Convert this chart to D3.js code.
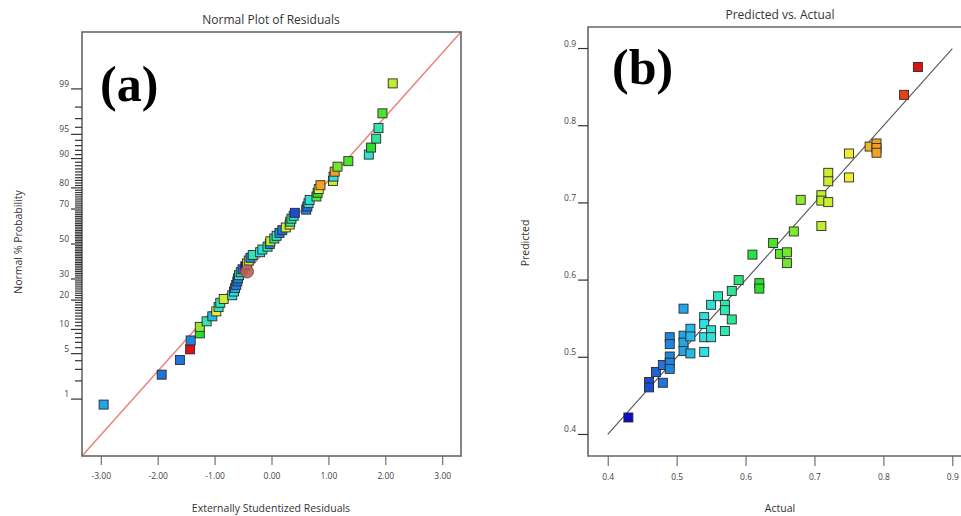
<!DOCTYPE html>
<html>
<head>
<meta charset="utf-8">
<script src="https://cdn.jsdelivr.net/npm/d3@7"></script>
<style>
  body { margin: 0; background: #fff; }
  svg { display: block; }
</style>
</head>
<body>
<svg id="chart" width="961" height="516"></svg>
<script>
// (a) normal plot of residuals
const residualsA = [-2.95,-1.93,-1.61,-1.43,-1.42,-1.26,-1.26,-1.14,-1.04,-0.97,
  -0.93,-0.90,-0.84,-0.69,-0.66,-0.64,-0.62,-0.60,-0.59,-0.57,
  -0.54,-0.51,-0.46,-0.43,-0.40,-0.37,-0.33,-0.20,-0.16,-0.07,
  -0.03,-0.02,0.05,0.09,0.14,0.19,0.25,0.32,0.33,0.35,
  0.39,0.41,0.61,0.63,0.65,0.67,0.79,0.81,0.83,0.86,
  1.08,1.09,1.11,1.16,1.35,1.71,1.75,1.84,1.88,1.95,2.13];
const percentA = [0.8,2.5,4.1,5.7,7.4,9.0,10.7,12.3,13.9,15.6,
  17.2,18.9,20.5,22.1,23.8,25.4,27.0,28.7,30.3,32.0,
  33.6,35.2,36.9,38.5,40.2,41.8,43.4,45.1,46.7,48.4,
  50.0,51.6,53.3,54.9,56.6,58.2,59.8,61.5,63.1,64.8,
  66.4,68.0,69.7,71.3,73.0,74.6,76.2,77.9,79.5,81.1,
  82.8,84.4,86.1,87.7,89.3,91.0,92.6,94.3,95.9,97.5,99.2];
const responseA = [0.51,0.48,0.48,0.85,0.49,0.62,0.68,0.57,0.52,0.75,
  0.56,0.57,0.72,0.54,0.54,0.51,0.49,0.48,0.49,0.54,
  0.59,0.47,0.43,0.75,0.72,0.49,0.57,0.54,0.55,0.57,
  0.49,0.71,0.58,0.56,0.49,0.48,0.72,0.75,0.57,0.58,
  0.55,0.46,0.49,0.48,0.54,0.55,0.65,0.62,0.75,0.79,
  0.72,0.54,0.79,0.66,0.64,0.55,0.62,0.58,0.57,0.64,0.71];
const highlightA = { residual: -0.43, percent: 34.0 };
const xTicksA = [-3, -2, -1, 0, 1, 2, 3];
const yLabelsA = [1, 5, 10, 20, 30, 50, 70, 80, 90, 95, 99];

// (b) predicted vs actual
const actualB = [0.43,0.46,0.46,0.47,0.48,0.48,0.49,0.49,0.49,0.49,0.49,
  0.51,0.51,0.51,0.51,0.52,0.52,0.52,0.54,0.54,0.54,0.54,
  0.55,0.55,0.55,0.56,0.57,0.57,0.57,0.58,0.58,0.59,0.61,0.62,0.62,
  0.64,0.65,0.66,0.66,0.67,0.68,0.71,0.71,0.71,0.72,0.72,0.72,
  0.75,0.75,0.78,0.79,0.79,0.79,0.83,0.85];
const predictedB = [0.422,0.468,0.461,0.481,0.490,0.467,0.526,0.517,0.501,0.493,0.485,
  0.563,0.528,0.519,0.508,0.537,0.527,0.505,0.552,0.543,0.526,0.507,
  0.568,0.535,0.526,0.579,0.568,0.561,0.534,0.586,0.549,0.600,0.633,0.596,0.589,
  0.648,0.634,0.636,0.622,0.663,0.704,0.710,0.703,0.670,0.739,0.728,0.701,
  0.764,0.733,0.773,0.777,0.771,0.765,0.840,0.876];
const ticksB = [0.4, 0.5, 0.6, 0.7, 0.8, 0.9];

// inverse normal cdf (Acklam)
function probit(p) {
  const a = [-39.69683028665376, 220.9460984245205, -275.9285104469687, 138.3577518672690, -30.66479806614716, 2.506628277459239];
  const b = [-54.47609879822406, 161.5858368580409, -155.6989798598866, 66.80131188771972, -13.28068155211578];
  const c = [-0.007784894002430293, -0.3223964580411365, -2.400758277161838, -2.549732539343734, 4.374664141464968, 2.938163982698783];
  const d = [0.007784695709041462, 0.3224671290700398, 2.445134137142996, 3.754408661907416];
  const pl = 0.02425;
  let q, r;
  if (p < pl) {
    q = Math.sqrt(-2 * Math.log(p));
    return (((((c[0]*q+c[1])*q+c[2])*q+c[3])*q+c[4])*q+c[5]) / ((((d[0]*q+d[1])*q+d[2])*q+d[3])*q+1);
  }
  if (p > 1 - pl) {
    q = Math.sqrt(-2 * Math.log(1 - p));
    return -(((((c[0]*q+c[1])*q+c[2])*q+c[3])*q+c[4])*q+c[5]) / ((((d[0]*q+d[1])*q+d[2])*q+d[3])*q+1);
  }
  q = p - 0.5; r = q * q;
  return (((((a[0]*r+a[1])*r+a[2])*r+a[3])*r+a[4])*r+a[5])*q / (((((b[0]*r+b[1])*r+b[2])*r+b[3])*r+b[4])*r+1);
}

const color = d3.scaleLinear()
  .domain([0.43, 0.47, 0.51, 0.54, 0.57, 0.62, 0.70, 0.75, 0.79, 0.85])
  .range(['#0b0bc8','#1f63d8','#22a6e8','#2edfe6','#2ee6ae','#2adf2a','#b2ee2e','#f2ee2e','#f2a222','#e01010'])
  .clamp(true);

const svg = d3.select('#chart');
const font = '"Open Sans", sans-serif';
const serif = '"Liberation Serif", "Times New Roman", serif';

// ---------- panel (a) ----------
const xA = d3.scaleLinear().domain([-3.33, 3.33]).range([82, 461]);
const zA = d3.scaleLinear().domain([-3.18, 3.18]).range([456, 32]);
const yA = pct => zA(probit(pct / 100));

const gA = svg.append('g');

// reference line corner to corner
gA.append('line')
  .attr('x1', xA(-3.33)).attr('y1', zA(-3.18))
  .attr('x2', xA(3.33)).attr('y2', zA(3.18))
  .attr('stroke', '#e8877e').attr('stroke-width', 1.6);

gA.selectAll('text.ylab').data(yLabelsA).join('text')
  .attr('class', 'ylab')
  .attr('x', 69).attr('y', d => yA(d) - 2)
  .attr('text-anchor', 'end').attr('font-family', font).attr('font-size', 8.5).attr('fill', '#444')
  .text(d => d);

const axXA = gA.append('g')
  .attr('transform', 'translate(0,456)')
  .call(d3.axisBottom(xA).tickValues(xTicksA).tickSize(9).tickPadding(8).tickSizeOuter(0)
    .tickFormat(d => d.toFixed(2)));
axXA.select('.domain').remove();
axXA.selectAll('.tick line').attr('stroke', '#555');
axXA.selectAll('.tick text').attr('font-size', 8.5).attr('font-family', font).attr('fill', '#444');

// frame
gA.append('rect')
  .attr('x', 82).attr('y', 32).attr('width', 379).attr('height', 424)
  .attr('fill', 'none').attr('stroke', '#666').attr('stroke-width', 1.6);

const ptsA = residualsA.map((r, i) => ({ r, p: percentA[i], v: responseA[i] }));
gA.selectAll('rect.ptA').data(ptsA).join('rect')
  .attr('class', 'ptA')
  .attr('x', d => xA(d.r) - 4.5).attr('y', d => yA(d.p) - 4.5)
  .attr('width', 9).attr('height', 9)
  .attr('fill', d => color(d.v))
  .attr('stroke', '#2a2a2a').attr('stroke-width', 0.9);

gA.append('circle')
  .attr('cx', xA(highlightA.residual)).attr('cy', yA(highlightA.percent))
  .attr('r', 6.5)
  .attr('fill', '#b8625c').attr('stroke', '#7a3c3a').attr('stroke-width', 0.8)
  .attr('fill-opacity', 0.9);

// percent ticks, every whole percent, longer where labelled (drawn on top)
const allPctA = d3.range(1, 100);
svg.append('g').selectAll('line').data(allPctA).join('line')
  .attr('x1', d => yLabelsA.includes(d) ? 71 : 75)
  .attr('x2', 82)
  .attr('y1', d => yA(d)).attr('y2', d => yA(d))
  .attr('stroke', '#333').attr('stroke-width', 1.2);

gA.append('text').attr('x', 271).attr('y', 24).attr('text-anchor', 'middle')
  .attr('font-family', font).attr('font-size', 12).attr('fill', '#333')
  .text('Normal Plot of Residuals');
gA.append('text').attr('x', 271).attr('y', 512).attr('text-anchor', 'middle')
  .attr('font-family', font).attr('font-size', 10.5).attr('fill', '#333')
  .text('Externally Studentized Residuals');
gA.append('text').attr('transform', 'translate(22,242) rotate(-90)').attr('text-anchor', 'middle')
  .attr('font-family', font).attr('font-size', 10.5).attr('fill', '#333')
  .text('Normal % Probability');
gA.append('text').attr('x', 100).attr('y', 101)
  .attr('font-family', serif).attr('font-weight', 'bold')
  .attr('font-size', 50).attr('fill', '#000').text('(a)');

// ---------- panel (b) ----------
const xB = d3.scaleLinear().domain([0.3714, 0.93]).range([588, 973]);
const yB = d3.scaleLinear().domain([0.3721, 0.9279]).range([456, 27]);
const gB = svg.append('g');

const axXB = gB.append('g')
  .attr('transform', 'translate(0,456)')
  .call(d3.axisBottom(xB).tickValues(ticksB).tickSize(10).tickPadding(8).tickSizeOuter(0)
    .tickFormat(d3.format('.1f')));
axXB.select('.domain').remove();
axXB.selectAll('.tick line').attr('stroke', '#555');
axXB.selectAll('.tick text').attr('font-size', 8.5).attr('font-family', font).attr('fill', '#444');

gB.selectAll('text.ylabB').data(ticksB).join('text')
  .attr('class', 'ylabB')
  .attr('x', 576).attr('y', d => yB(d) - 2)
  .attr('text-anchor', 'end').attr('font-family', font).attr('font-size', 8.5).attr('fill', '#444')
  .text(d3.format('.1f'));

gB.append('path')
  .attr('d', `M${xB(0.93)},27H588V456H${xB(0.93)}`)
  .attr('fill', 'none').attr('stroke', '#666').attr('stroke-width', 1.6);

gB.append('line')
  .attr('x1', xB(0.4)).attr('y1', yB(0.4))
  .attr('x2', xB(0.9)).attr('y2', yB(0.9))
  .attr('stroke', '#555').attr('stroke-width', 1.1);

const ptsB = actualB.map((a, i) => ({ a, p: predictedB[i] }));
gB.selectAll('rect.ptB').data(ptsB).join('rect')
  .attr('class', 'ptB')
  .attr('x', d => xB(d.a) - 4.5).attr('y', d => yB(d.p) - 4.5)
  .attr('width', 9).attr('height', 9)
  .attr('fill', d => color(d.a))
  .attr('stroke', '#2a2a2a').attr('stroke-width', 0.9);

// y ticks of (b), drawn on top
gB.append('g').selectAll('line').data(ticksB).join('line')
  .attr('x1', 578).attr('x2', 588)
  .attr('y1', d => yB(d)).attr('y2', d => yB(d))
  .attr('stroke', '#333').attr('stroke-width', 1.2);

gB.append('text').attr('x', 780).attr('y', 19).attr('text-anchor', 'middle')
  .attr('font-family', font).attr('font-size', 12).attr('fill', '#333')
  .text('Predicted vs. Actual');
gB.append('text').attr('x', 780).attr('y', 512).attr('text-anchor', 'middle')
  .attr('font-family', font).attr('font-size', 10.5).attr('fill', '#333')
  .text('Actual');
gB.append('text').attr('transform', 'translate(529,243) rotate(-90)').attr('text-anchor', 'middle')
  .attr('font-family', font).attr('font-size', 10.5).attr('fill', '#333')
  .text('Predicted');
gB.append('text').attr('x', 612).attr('y', 84)
  .attr('font-family', serif).attr('font-weight', 'bold')
  .attr('font-size', 50).attr('fill', '#000').text('(b)');
</script>
</body>
</html>
